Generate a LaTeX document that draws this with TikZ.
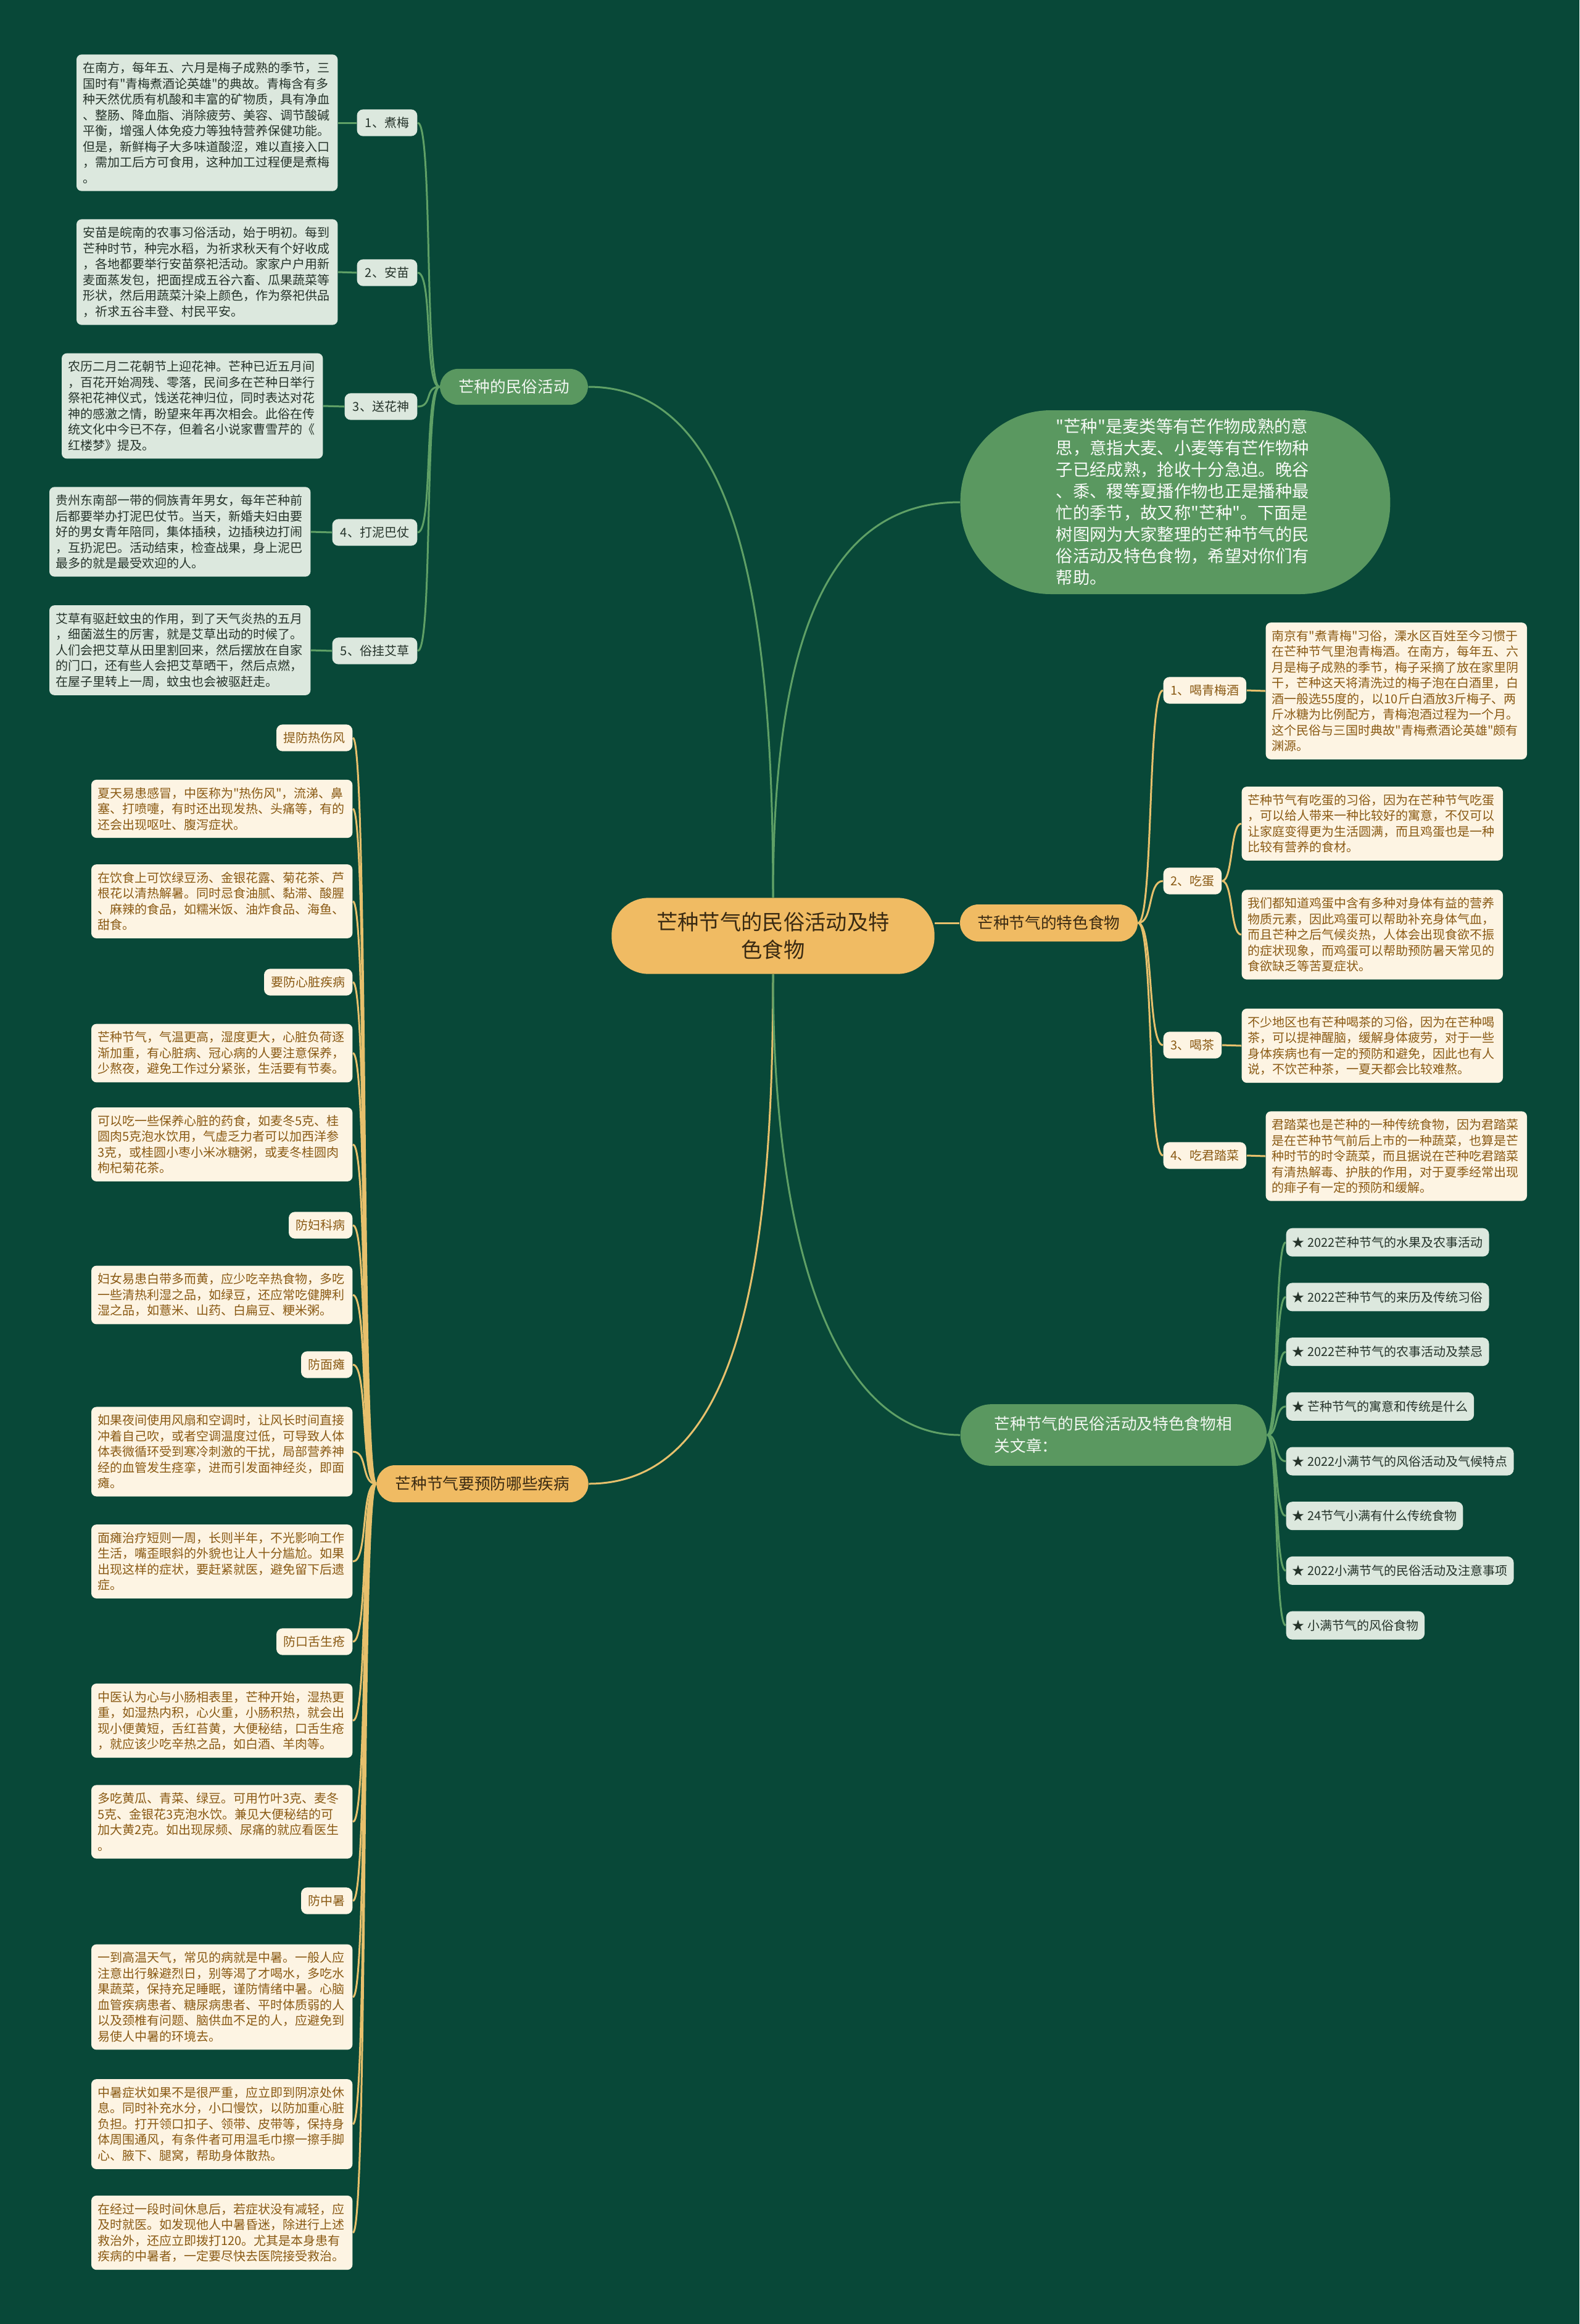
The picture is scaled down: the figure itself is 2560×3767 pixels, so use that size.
\documentclass[tikz,border=0pt]{standalone}
\usepackage{fontspec}
\setmainfont{Noto Sans CJK SC}[Ligatures=TeXOff]
\pgfdeclarelayer{bg}
\pgfdeclarelayer{lines}
\pgfsetlayers{bg,lines,main}
\definecolor{bgdark}{HTML}{084838}
\definecolor{leaf}{HTML}{5A9860}
\definecolor{gold}{HTML}{F0BB63}
\definecolor{mist}{HTML}{DCE8DE}
\definecolor{cream}{HTML}{FDF4E3}
\definecolor{brownink}{HTML}{8A5A14}
\definecolor{darkink}{HTML}{25332A}
\definecolor{rootink}{HTML}{3A2A12}
\definecolor{leafline}{HTML}{5FA066}
\definecolor{goldline}{HTML}{E7C06C}

\begin{document}
\begin{tikzpicture}[
      x=0.3pt, y=-0.3pt,
      every node/.style={font=\fontsize{6}{7.65}\selectfont, inner xsep=3pt, inner ysep=3.7pt},
      root/.style={fill=gold, text=rootink, rounded corners=18pt, minimum width=157pt, minimum height=37pt, align=center, font=\fontsize{10.3}{13.7}\selectfont},
      leafbranch/.style={fill=leaf, text=white!92!leaf, rounded corners=9pt, minimum height=17.5pt, inner xsep=8pt, font=\fontsize{7.7}{10.8}\selectfont},
      goldbranch/.style={fill=gold, text=rootink, rounded corners=9pt, minimum height=18pt, inner xsep=8pt, font=\fontsize{7.7}{10.8}\selectfont},
      intro/.style={fill=leaf, text=white!95!leaf, rounded corners=44pt, minimum width=209pt, minimum height=89.4pt, text width=116pt, align=left, font=\fontsize{8.2}{10.5}\selectfont},
      folkbox/.style={fill=mist, text=darkink, rounded corners=2.5pt, text width=121pt, align=left},
      folktag/.style={fill=mist, text=darkink, rounded corners=3pt, minimum height=13pt, inner xsep=4pt},
      foodbox/.style={fill=cream, text=brownink, rounded corners=2.5pt, text width=121pt, align=left},
      foodtag/.style={fill=cream, text=brownink, rounded corners=3pt, minimum height=13pt, inner xsep=3.5pt},
      article/.style={fill=mist, text=darkink, rounded corners=3pt, minimum height=13.8pt},
      leafline/.style={draw=leafline, line width=0.9pt},
      goldline/.style={draw=goldline, line width=0.9pt}
    ]
    \useasboundingbox (0,0) rectangle (2560,3767);
    \begin{pgfonlayer}{bg}
      \fill[bgdark] (0,0) rectangle (2560,3767);
    \end{pgfonlayer}

    % centro y ramas
    \node[root] (root) at (1253,1517) {芒种节气的民俗活动及特\\色食物};
    \node[leafbranch, minimum width=72pt] (folk) at (833,627) {芒种的民俗活动};
    \node[goldbranch, minimum width=86.4pt] (food) at (1700,1496) {芒种节气的特色食物};
    \node[goldbranch, minimum width=103pt] (ill) at (782,2405) {芒种节气要预防哪些疾病};
    \node[leafbranch, text width=116pt, align=left, inner xsep=16.5pt, inner ysep=6pt, rounded corners=15pt] (rel) at (1805,2326) {芒种节气的民俗活动及特色食物相\\关文章：};
    \node[intro] (intro) at (1905,814) {"芒种"是麦类等有芒作物成熟的意\\思，意指大麦、小麦等有芒作物种\\子已经成熟，抢收十分急迫。晚谷\\、黍、稷等夏播作物也正是播种最\\忙的季节，故又称"芒种"。下面是\\树图网为大家整理的芒种节气的民\\俗活动及特色食物，希望对你们有\\帮助。};

    % 民俗活动
    \node[folktag, anchor=east] (mei) at (677,199) {1、煮梅};
    \node[folkbox, anchor=east] (meitxt) at (548,199) {在南方，每年五、六月是梅子成熟的季节，三\\国时有"青梅煮酒论英雄"的典故。青梅含有多\\种天然优质有机酸和丰富的矿物质，具有净血\\、整肠、降血脂、消除疲劳、美容、调节酸碱\\平衡，增强人体免疫力等独特营养保健功能。\\但是，新鲜梅子大多味道酸涩，难以直接入口\\，需加工后方可食用，这种加工过程便是煮梅\\。};
    \node[folktag, anchor=east] (miao) at (677,442) {2、安苗};
    \node[folkbox, anchor=east] (miaotxt) at (548,441) {安苗是皖南的农事习俗活动，始于明初。每到\\芒种时节，种完水稻，为祈求秋天有个好收成\\，各地都要举行安苗祭祀活动。家家户户用新\\麦面蒸发包，把面捏成五谷六畜、瓜果蔬菜等\\形状，然后用蔬菜汁染上颜色，作为祭祀供品\\，祈求五谷丰登、村民平安。};
    \node[folktag, anchor=east] (huashen) at (677,659) {3、送花神};
    \node[folkbox, anchor=east] (huashentxt) at (524,658) {农历二月二花朝节上迎花神。芒种已近五月间\\，百花开始凋残、零落，民间多在芒种日举行\\祭祀花神仪式，饯送花神归位，同时表达对花\\神的感激之情，盼望来年再次相会。此俗在传\\统文化中今已不存，但着名小说家曹雪芹的《\\红楼梦》提及。};
    \node[folktag, anchor=east] (niba) at (677,863) {4、打泥巴仗};
    \node[folkbox, anchor=east] (nibatxt) at (504,862) {贵州东南部一带的侗族青年男女，每年芒种前\\后都要举办打泥巴仗节。当天，新婚夫妇由要\\好的男女青年陪同，集体插秧，边插秧边打闹\\，互扔泥巴。活动结束，检查战果，身上泥巴\\最多的就是最受欢迎的人。};
    \node[folktag, anchor=east] (aicao) at (677,1055) {5、俗挂艾草};
    \node[folkbox, anchor=east] (aicaotxt) at (504,1054) {艾草有驱赶蚊虫的作用，到了天气炎热的五月\\，细菌滋生的厉害，就是艾草出动的时候了。\\人们会把艾草从田里割回来，然后摆放在自家\\的门口，还有些人会把艾草晒干，然后点燃，\\在屋子里转上一周，蚊虫也会被驱赶走。};

    % 特色食物
    \node[foodtag, anchor=west] (jiu) at (1885,1119) {1、喝青梅酒};
    \node[foodbox, anchor=west] (jiutxt) at (2051,1120) {南京有"煮青梅"习俗，溧水区百姓至今习惯于\\在芒种节气里泡青梅酒。在南方，每年五、六\\月是梅子成熟的季节，梅子采摘了放在家里阴\\干，芒种这天将清洗过的梅子泡在白酒里，白\\酒一般选55度的，以10斤白酒放3斤梅子、两\\斤冰糖为比例配方，青梅泡酒过程为一个月。\\这个民俗与三国时典故"青梅煮酒论英雄"颇有\\渊源。};
    \node[foodtag, anchor=west] (dan) at (1885,1428) {2、吃蛋};
    \node[foodbox, anchor=west] (dantxtA) at (2012,1335) {芒种节气有吃蛋的习俗，因为在芒种节气吃蛋\\，可以给人带来一种比较好的寓意，不仅可以\\让家庭变得更为生活圆满，而且鸡蛋也是一种\\比较有营养的食材。};
    \node[foodbox, anchor=west] (dantxtB) at (2012,1515) {我们都知道鸡蛋中含有多种对身体有益的营养\\物质元素，因此鸡蛋可以帮助补充身体气血，\\而且芒种之后气候炎热，人体会出现食欲不振\\的症状现象，而鸡蛋可以帮助预防暑天常见的\\食欲缺乏等苦夏症状。};
    \node[foodtag, anchor=west] (cha) at (1885,1694) {3、喝茶};
    \node[foodbox, anchor=west] (chatxt) at (2012,1695) {不少地区也有芒种喝茶的习俗，因为在芒种喝\\茶，可以提神醒脑，缓解身体疲劳，对于一些\\身体疾病也有一定的预防和避免，因此也有人\\说，不饮芒种茶，一夏天都会比较难熬。};
    \node[foodtag, anchor=west] (cai) at (1885,1873) {4、吃君踏菜};
    \node[foodbox, anchor=west] (caitxt) at (2051,1874) {君踏菜也是芒种的一种传统食物，因为君踏菜\\是在芒种节气前后上市的一种蔬菜，也算是芒\\种时节的时令蔬菜，而且据说在芒种吃君踏菜\\有清热解毒、护肤的作用，对于夏季经常出现\\的痱子有一定的预防和缓解。};

    % 相关文章
    \foreach \i/\txt in {1/{★ 2022芒种节气的水果及农事活动}, 2/{★ 2022芒种节气的来历及传统习俗},
        3/{★ 2022芒种节气的农事活动及禁忌}, 4/{★ 芒种节气的寓意和传统是什么},
        5/{★ 2022小满节气的风俗活动及气候特点}, 6/{★ 24节气小满有什么传统食物},
        7/{★ 2022小满节气的民俗活动及注意事项}, 8/{★ 小满节气的风俗食物}}
      \node[article, anchor=west] (art\i) at (2084,{1925+88.7*\i}) {\txt};

    % 预防疾病
    \node[foodtag, anchor=east] (ill1) at (572,1196) {提防热伤风};
    \node[foodbox, anchor=east] (ill2) at (572,1311) {夏天易患感冒，中医称为"热伤风"，流涕、鼻\\塞、打喷嚏，有时还出现发热、头痛等，有的\\还会出现呕吐、腹泻症状。};
    \node[foodbox, anchor=east] (ill3) at (572,1461) {在饮食上可饮绿豆汤、金银花露、菊花茶、芦\\根花以清热解暑。同时忌食油腻、黏滞、酸腥\\、麻辣的食品，如糯米饭、油炸食品、海鱼、\\甜食。};
    \node[foodtag, anchor=east] (ill4) at (572,1592) {要防心脏疾病};
    \node[foodbox, anchor=east] (ill5) at (572,1707) {芒种节气，气温更高，湿度更大，心脏负荷逐\\渐加重，有心脏病、冠心病的人要注意保养，\\少熬夜，避免工作过分紧张，生活要有节奏。};
    \node[foodbox, anchor=east] (ill6) at (572,1855) {可以吃一些保养心脏的药食，如麦冬5克、桂\\圆肉5克泡水饮用，气虚乏力者可以加西洋参\\3克，或桂圆小枣小米冰糖粥，或麦冬桂圆肉\\枸杞菊花茶。};
    \node[foodtag, anchor=east] (ill7) at (572,1986) {防妇科病};
    \node[foodbox, anchor=east] (ill8) at (572,2099) {妇女易患白带多而黄，应少吃辛热食物，多吃\\一些清热利湿之品，如绿豆，还应常吃健脾利\\湿之品，如薏米、山药、白扁豆、粳米粥。};
    \node[foodtag, anchor=east] (ill9) at (572,2212) {防面瘫};
    \node[foodbox, anchor=east] (ill10) at (572,2353) {如果夜间使用风扇和空调时，让风长时间直接\\冲着自己吹，或者空调温度过低，可导致人体\\体表微循环受到寒冷刺激的干扰，局部营养神\\经的血管发生痉挛，进而引发面神经炎，即面\\瘫。};
    \node[foodbox, anchor=east] (ill11) at (572,2531) {面瘫治疗短则一周，长则半年，不光影响工作\\生活，嘴歪眼斜的外貌也让人十分尴尬。如果\\出现这样的症状，要赶紧就医，避免留下后遗\\症。};
    \node[foodtag, anchor=east] (ill12) at (572,2661) {防口舌生疮};
    \node[foodbox, anchor=east] (ill13) at (572,2789) {中医认为心与小肠相表里，芒种开始，湿热更\\重，如湿热内积，心火重，小肠积热，就会出\\现小便黄短，舌红苔黄，大便秘结，口舌生疮\\，就应该少吃辛热之品，如白酒、羊肉等。};
    \node[foodbox, anchor=east] (ill14) at (572,2953) {多吃黄瓜、青菜、绿豆。可用竹叶3克、麦冬\\5克、金银花3克泡水饮。兼见大便秘结的可\\加大黄2克。如出现尿频、尿痛的就应看医生\\。};
    \node[foodtag, anchor=east] (ill15) at (572,3081) {防中暑};
    \node[foodbox, anchor=east] (ill16) at (572,3237) {一到高温天气，常见的病就是中暑。一般人应\\注意出行躲避烈日，别等渴了才喝水，多吃水\\果蔬菜，保持充足睡眠，谨防情绪中暑。心脑\\血管疾病患者、糖尿病患者、平时体质弱的人\\以及颈椎有问题、脑供血不足的人，应避免到\\易使人中暑的环境去。};
    \node[foodbox, anchor=east] (ill17) at (572,3443) {中暑症状如果不是很严重，应立即到阴凉处休\\息。同时补充水分，小口慢饮，以防加重心脏\\负担。打开领口扣子、领带、皮带等，保持身\\体周围通风，有条件者可用温毛巾擦一擦手脚\\心、腋下、腿窝，帮助身体散热。};
    \node[foodbox, anchor=east] (ill18) at (572,3619) {在经过一段时间休息后，若症状没有减轻，应\\及时就医。如发现他人中暑昏迷，除进行上述\\救治外，还应立即拨打120。尤其是本身患有\\疾病的中暑者，一定要尽快去医院接受救治。};

    % conexiones
    \begin{pgfonlayer}{lines}
      \draw[leafline] (root.north) .. controls +(0,-450) and +(250,0) .. (folk.east);
      \draw[leafline] (root.north) .. controls +(0,-450) and +(-200,0) .. (intro.west);
      \draw[goldline] (root.east |- food.west) -- (food.west);
      \draw[goldline] (root.south) .. controls +(0,450) and +(250,0) .. (ill.east);
      \draw[leafline] (root.south) .. controls +(0,450) and +(-200,0) .. (rel.west);

      \foreach \t in {mei,miao,huashen,niba,aicao} {
        \draw[leafline] (folk.west) .. controls +(-25,0) and +(25,0) .. (\t.east);
        \draw[leafline] (\t.west) -- (\t txt.east);
      }
      \foreach \t in {jiu,dan,cha,cai}
        \draw[goldline] (food.east) .. controls +(25,0) and +(-25,0) .. (\t.west);
      \draw[goldline] (jiu.east) -- (jiutxt.west);
      \draw[goldline] (dan.east) .. controls +(18,0) and +(-18,0) .. (dantxtA.west);
      \draw[goldline] (dan.east) .. controls +(18,0) and +(-18,0) .. (dantxtB.west);
      \draw[goldline] (cha.east) -- (chatxt.west);
      \draw[goldline] (cai.east) -- (caitxt.west);
      \foreach \i in {1,...,8}
        \draw[leafline] (rel.east) .. controls +(18,0) and +(-18,0) .. (art\i.west);
      \foreach \i in {1,...,18}
        \draw[goldline] (ill.west) .. controls +(-25,0) and +(25,0) .. (ill\i.east);
    \end{pgfonlayer}

  \end{tikzpicture}
\end{document}
